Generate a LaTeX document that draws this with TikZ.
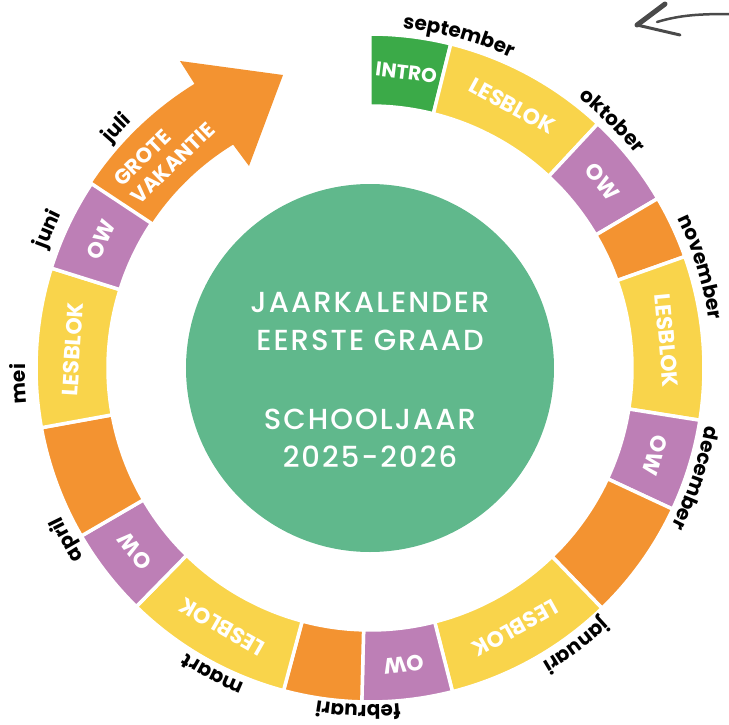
\documentclass[tikz,border=0pt]{standalone}
\usepackage{fontspec}
\setmainfont{Poppins}
\IfFontExistsTF{Poppins Medium}{\newfontfamily\popmed{Poppins Medium}}{\newfontfamily\popmed{Poppins}}
\usetikzlibrary{decorations.text}
\definecolor{cgreen}{HTML}{3BAA48}
\definecolor{cyellow}{HTML}{F9D44B}
\definecolor{cpurple}{HTML}{BD7FB6}
\definecolor{corange}{HTML}{F39331}
\definecolor{ccenter}{HTML}{60B88C}
\definecolor{cgrey}{HTML}{4A4A4A}
\newcommand{\rin}{262pt}
\newcommand{\rout}{334pt}
\newcommand{\monthfont}{\fontsize{20}{24}\selectfont\bfseries}
\newcommand{\ringseg}[6][]{%
  \fill[segfill, fill=#4] (#2:\rin) arc[start angle=#2, end angle=#3, radius=\rin]
    -- (#3:\rout) arc[start angle=#3, end angle=#2, radius=\rout] -- cycle;
  \node[seglabel, rotate={(#2+#3)/2-90}, #1] (#6) at ({(#2+#3)/2}:298pt) {#5};
}
\newcommand{\monthlab}[3]{%
  \path[decorate, decoration={text along path, text={|\monthfont|#1}, text align=center}]
    ({#2+40}:#3) arc[start angle={#2+40}, end angle={#2-40}, radius=#3];
}
\begin{document}
\begin{tikzpicture}[x=1pt, y=1pt,
  segfill/.style={draw=white, line width=3.5pt},
  seglabel/.style={text=white, font=\fontsize{22}{25}\selectfont\bfseries, inner sep=0pt},
  greyline/.style={draw=cgrey, line cap=round, line join=round}]
\useasboundingbox (-370,-356) rectangle (359,368);
% arrow (grote vakantie)
\coordinate (ai) at (121.5:\rin);
\coordinate (ao) at (121.7:\rout);
\coordinate (ac) at (-121,202);
\coordinate (ab) at (-87,293);
\coordinate (aa) at (-190,307);
\fill[corange] (146.5:\rin) arc[start angle=146.5, end angle=121.5, radius=\rin]
  -- (ac) -- (ab) -- (aa) -- (ao) arc[start angle=121.7, end angle=146.5, radius=\rout] -- cycle;
\node[seglabel, rotate=43.9, align=left, font=\fontsize{21}{25}\selectfont\bfseries] (vak) at (133.9:297pt) {GROTE\\VAKANTIE};
% ring segments
\ringseg[font=\fontsize{20}{24}\selectfont\bfseries]{90}{76}{cgreen}{INTRO}{s1}
\ringseg{76}{47}{cyellow}{LESBLOK}{s2}
\ringseg{47}{30.5}{cpurple}{OW}{s3}
\ringseg{30.5}{19.5}{corange}{}{s4}
\ringseg{19.5}{-9}{cyellow}{LESBLOK}{s5}
\ringseg{-9}{-25}{cpurple}{OW}{s6}
\ringseg{-25}{-46}{corange}{}{s7}
\ringseg{-46}{-75.7}{cyellow}{LESBLOK}{s8}
\ringseg{-75.7}{-91.4}{cpurple}{OW}{s9}
\ringseg{-91.4}{-105}{corange}{}{s10}
\ringseg{-105}{-134.4}{cyellow}{LESBLOK}{s11}
\ringseg{-134.4}{-149.8}{cpurple}{OW}{s12}
\ringseg{-149.8}{-169.7}{corange}{}{s13}
\ringseg{-169.7}{-197.4}{cyellow}{LESBLOK}{s14}
\ringseg{162.6}{146.5}{cpurple}{OW}{s15}
% centre
\node[circle, fill=ccenter, minimum size=368pt, inner sep=0pt] (centre) at (0,0) {};
\node[text=white, align=center, font=\popmed\addfontfeatures{LetterSpace=7}\fontsize{29}{38}\selectfont] (title) at (0,-12)
  {JAARKALENDER\\EERSTE GRAAD\\[41pt]SCHOOLJAAR\\2025-2026};
% months
\monthlab{september}{75}{341pt}
\monthlab{oktober}{45.6}{341pt}
\monthlab{november}{17}{342pt}
\monthlab{december}{-18.7}{340pt}
\monthlab{januari}{-53.4}{341pt}
\monthlab{februari}{-92}{337pt}
\monthlab{maart}{-117.2}{339pt}
\monthlab{april}{-150.5}{343pt}
\monthlab{mei}{-177.4}{345pt}
\monthlab{juni}{156.7}{345pt}
\monthlab{juli}{136.6}{343pt}
% hand-drawn arrow top right
\coordinate (gt) at (267,343);
\coordinate (gu) at (295,364);
\coordinate (gl) at (310,333);
\coordinate (gs) at (287,346);
\coordinate (ge) at (359,354);
\draw[greyline, line width=5pt] (gu) -- (gt);
\draw[greyline, line width=3pt] (gt) -- (gl);
\draw[greyline, line width=2.5pt] (gs) .. controls (310,353) and (330,354) .. (ge);
\end{tikzpicture}
\end{document}
